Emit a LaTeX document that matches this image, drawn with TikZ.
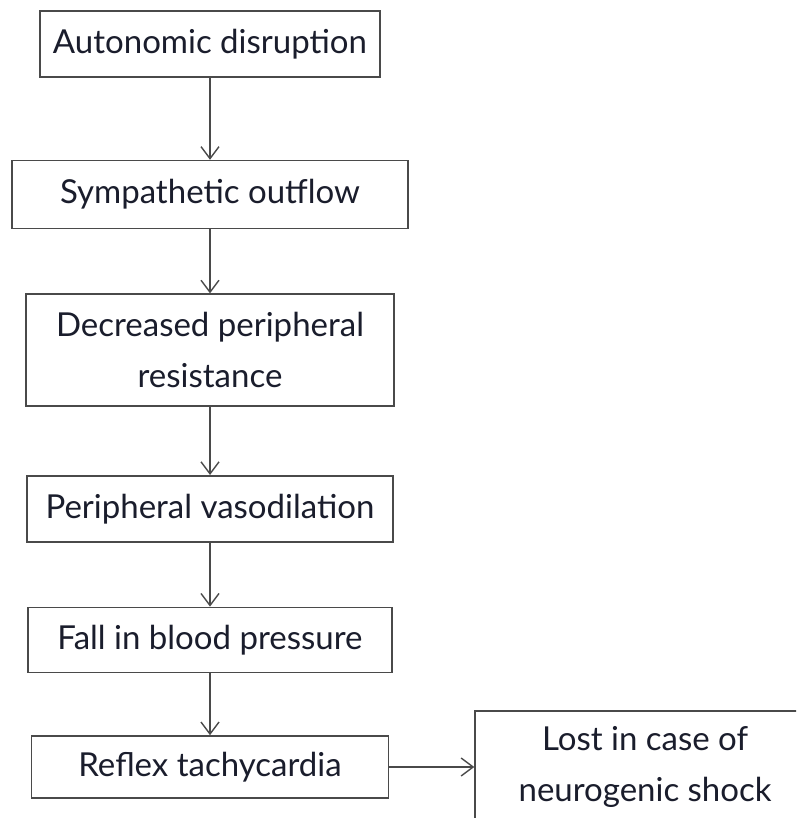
\documentclass[tikz,border=0pt]{standalone}
\usepackage{fontspec}
\newfontfamily\handfont{Lato}
\usepackage{tikz}
\usetikzlibrary{arrows.meta,positioning}
\definecolor{inkblue}{HTML}{1A1D2C}
\definecolor{boxgray}{HTML}{4A4A4A}

\begin{document}
\begin{tikzpicture}[
x=1pt, y=1pt,
node distance=64pt and 85pt,
stage/.style={draw=boxgray, line width=1.6pt, rectangle, align=center, inner sep=0pt, text=inkblue, font=\handfont\fontsize{33}{51}\selectfont},
arr/.style={-{Straight Barb[length=12pt,width=18pt]}, line width=1.4pt, draw=boxgray},
]
\clip (0,0) rectangle (796,-818);
\fill[white] (0,0) rectangle (796,-818);
\node[stage, minimum width=340pt, minimum height=66pt] (auto) at (210,-44) {Autonomic disruption};
\node[stage, minimum width=396pt, minimum height=68pt, below=82pt of auto] (symp) {Sympathetic outflow};
\node[stage, minimum width=368pt, minimum height=112pt, below=of symp] (resist) {Decreased peripheral\\resistance};
\node[stage, minimum width=366pt, minimum height=66pt, below=68pt of resist] (vaso) {Peripheral vasodilation};
\node[stage, minimum width=364pt, minimum height=65pt, below=of vaso] (bp) {Fall in blood pressure};
\node[stage, minimum width=357pt, minimum height=62pt, below=62pt of bp] (reflex) {Reflex tachycardia};
\node[stage, minimum width=400pt, minimum height=112pt, right=of reflex] (lost) {\hspace*{-60pt}Lost in case of\\\hspace*{-60pt}neurogenic shock};
\draw[arr] (auto.south) -- (symp.north);
\draw[arr] (symp.south) -- (resist.north);
\draw[arr] (resist.south) -- (vaso.north);
\draw[arr] (vaso.south) -- (bp.north);
\draw[arr] (bp.south) -- (reflex.north);
\draw[arr] (reflex.east) -- (lost.west);
\end{tikzpicture}
\end{document}
